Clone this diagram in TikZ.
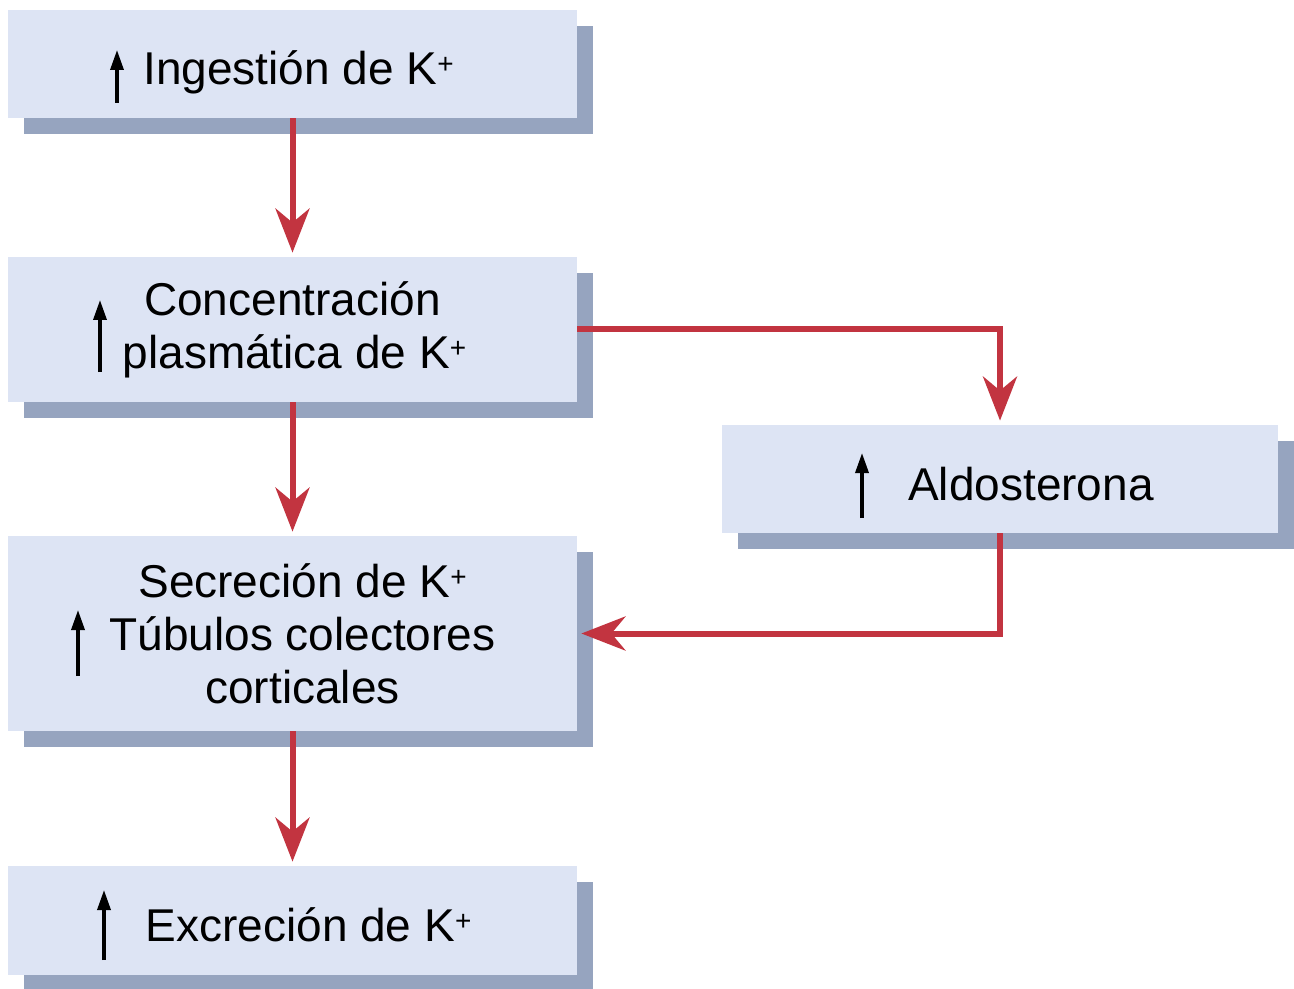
\documentclass[tikz,border=0pt]{standalone}
\usepackage{fontspec}
\setmainfont{Liberation Sans}
\usetikzlibrary{arrows.meta,positioning,shadows}
\definecolor{boxfill}{HTML}{DDE4F4}
\definecolor{boxshade}{HTML}{96A4BF}
\definecolor{flowred}{HTML}{C23440}
\newcommand{\Kp}{K\raisebox{5.5pt}{\fontsize{14}{14}\selectfont+}}
\tikzset{
  box/.style={fill=boxfill,minimum width=284.5pt,align=center,inner sep=0pt,
              font=\fontsize{23}{26.5}\selectfont,
              drop shadow={shadow xshift=8pt,shadow yshift=-8pt,
                           fill=boxshade,opacity=1}},
  onel/.style={text height=21pt,text depth=0pt},
  fl/.style={draw=flowred,line width=3pt,
             -{Stealth[length=22pt,width=17pt,inset=7pt,flowred]},
             shorten >=2pt},
  up/.style={line width=1.7pt,-{Triangle[length=10pt,width=6.5pt]}},
}
\begin{document}
\begin{tikzpicture}[x=0.5pt,y=-0.5pt]
  \useasboundingbox (0,0) rectangle (1294,989);
  \node[box,onel,minimum height=54pt] (ing) at (292.5,64)
    {\hspace*{6pt}Ingesti\'on de \Kp};
  \node[box,minimum height=72.5pt] (conc) at (292.5,329.5)
    {Concentraci\'on\\\hspace*{2pt}plasm\'atica de \Kp};
  \node[box,onel,minimum width=278pt,minimum height=54pt] (aldo) at (1000,479)
    {\hspace*{31pt}Aldosterona};
  \node[box,minimum height=97.5pt] (secr) at (292.5,633.5)
    {\hspace*{10pt}Secreci\'on de \Kp\\\hspace*{10pt}T\'ubulos colectores\\\hspace*{10pt}corticales};
  \node[box,onel,minimum height=54.5pt] (excr) at (292.5,920.5)
    {\hspace*{16pt}Excreci\'on de \Kp};
  % flechas rojas
  \draw[fl] (ing) -- (conc);
  \draw[fl] (conc) -- (secr);
  \draw[fl] (secr) -- (excr);
  \draw[fl] (conc.east) -| (aldo.north);
  \draw[fl] (aldo.south) |- (secr.east);
  % flechas de aumento
  \draw[up] (117,103) -- (117,50);
  \draw[up] (100,372) -- (100,300);
  \draw[up] (862,518) -- (862,453);
  \draw[up] (78,676) -- (78,610);
  \draw[up] (104,960) -- (104,890);
\end{tikzpicture}
\end{document}
